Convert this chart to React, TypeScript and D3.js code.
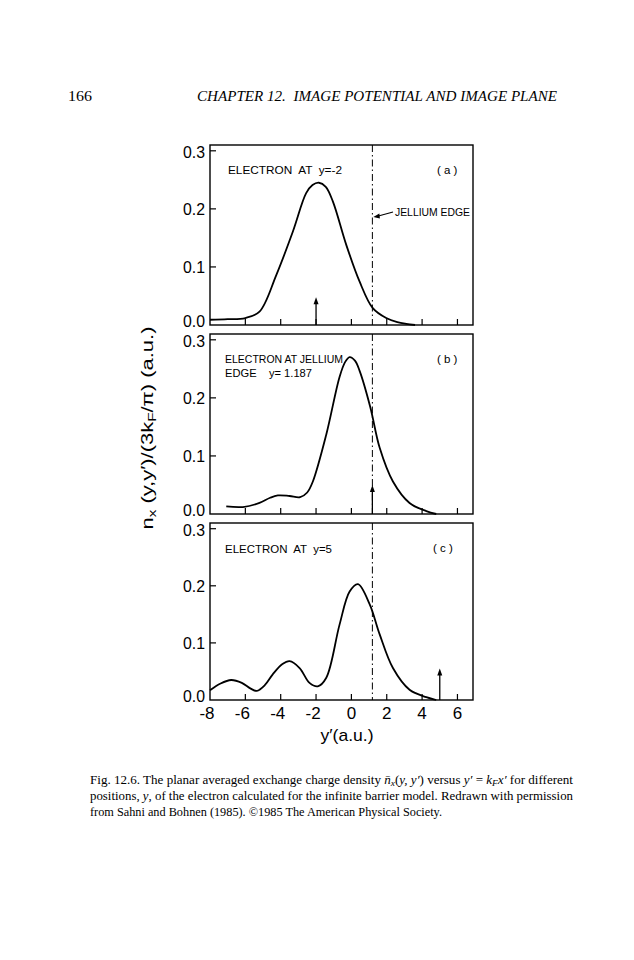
import React from "react";
import * as d3 from "d3";

// ---- data ----
const xDomain = [-8, 6.88];
const yDomain = [0, 0.31];
const xTicks = [-8, -6, -4, -2, 0, 2, 4, 6];
const yTicks = [0, 0.1, 0.2, 0.3];
const yTickLabels = ["0.0", "0.1", "0.2", "0.3"];
const jelliumEdge = 1.187;

const aX = [-8, -7, -6, -5.2, -4.25, -3.31, -2.56, -2.2, -1.84, -1.45, -1.05, -0.29, 0.46, 1.21, 1.97, 2.6, 3.1, 3.6];
const aY = [0.009, 0.010, 0.012, 0.023, 0.086, 0.161, 0.227, 0.241, 0.245, 0.238, 0.213, 0.138, 0.075, 0.029, 0.012, 0.005, 0.002, 0.0];

const bX = [-7.08, -6.14, -5.2, -4.6, -4.16, -3.5, -2.9, -2.5, -2.18, -1.42, -0.67, -0.35, -0.1, 0.2, 0.46, 1.07, 1.6, 2.35, 3.29, 4.24, 4.8];
const bY = [0.013, 0.012, 0.019, 0.028, 0.032, 0.031, 0.029, 0.037, 0.056, 0.137, 0.236, 0.262, 0.270, 0.264, 0.247, 0.184, 0.114, 0.056, 0.019, 0.005, 0.0];

const cX = [-8, -7.4, -6.8, -6.2, -5.7, -5.35, -4.9, -4.45, -3.9, -3.5, -2.93, -2.37, -1.9, -1.42, -0.67, -0.1, 0.37, 1.03, 1.6, 2.35, 3.29, 4.24, 4.8];
const cY = [0.017, 0.029, 0.035, 0.030, 0.020, 0.016, 0.026, 0.045, 0.063, 0.068, 0.056, 0.030, 0.024, 0.039, 0.132, 0.190, 0.203, 0.168, 0.115, 0.056, 0.018, 0.005, 0.0];

const electronPos = [-2, 1.187, 5];
const arrowHeights = [0.048, 0.05, 0.055];
const panelLabels = ["(a)", "(b)", "(c)"];

// ---- layout ----
const W = 634, H = 960;
const left = 210, right = 473;
const panels = [
  { top: 145, bottom: 325 },
  { top: 334, bottom: 514 },
  { top: 523, bottom: 700 },
];

const sans = "'Liberation Sans', Arial, sans-serif";
const serif = "'Liberation Serif', 'DejaVu Serif', serif";

export default function App() {
  const x = d3.scaleLinear().domain(xDomain).range([left, right]);
  const series = [
    { xs: aX, ys: aY },
    { xs: bX, ys: bY },
    { xs: cX, ys: cY },
  ];

  return (
    <svg width={W} height={H} style={{ position: "absolute", left: 0, top: 0, background: "#fff" }}>
      {/* header */}
      <text x={68} y={101} fontFamily={serif} fontSize={14} textLength={24} lengthAdjust="spacingAndGlyphs">166</text>
      <text x={197} y={101} fontFamily={serif} fontSize={14.5} fontStyle="italic" textLength={360} lengthAdjust="spacingAndGlyphs" xmlSpace="preserve">
        CHAPTER 12.  IMAGE POTENTIAL AND IMAGE PLANE
      </text>

      {panels.map((p, i) => {
        const y = d3.scaleLinear().domain(yDomain).range([p.bottom, p.top]);
        const line = d3
          .line<number>()
          .x((_, k) => x(series[i].xs[k]))
          .y((v) => y(v))
          .curve(d3.curveCatmullRom.alpha(0.5));
        const ex = x(electronPos[i]);
        const ay = y(arrowHeights[i]);
        return (
          <g key={i}>
            <rect x={left} y={p.top} width={right - left} height={p.bottom - p.top} fill="none" stroke="#000" strokeWidth={1.4} />
            {/* y ticks */}
            {yTicks.map((t, k) => (
              <g key={k}>
                {t > 0 && <line x1={left} x2={left + 6} y1={y(t)} y2={y(t)} stroke="#000" strokeWidth={1.2} />}
                <text
                  x={205}
                  y={y(t) + (t === 0 ? -4 : t >= 0.3 ? 1.5 : 0)}
                  dy="0.36em"
                  textAnchor="end"
                  fontFamily={sans}
                  fontSize={17}
                  textLength={22}
                  lengthAdjust="spacingAndGlyphs"
                >
                  {yTickLabels[k]}
                </text>
              </g>
            ))}
            {/* x ticks */}
            {xTicks.filter((t) => t > xDomain[0]).map((t) => (
              <line key={t} x1={x(t)} x2={x(t)} y1={p.bottom} y2={p.bottom - 6} stroke="#000" strokeWidth={1.2} />
            ))}
            {/* jellium edge */}
            <line x1={x(jelliumEdge)} x2={x(jelliumEdge)} y1={p.top} y2={p.bottom} stroke="#000" strokeWidth={1} strokeDasharray="7,3,1.5,3" />
            {/* curve */}
            <path d={line(series[i].ys) || ""} fill="none" stroke="#000" strokeWidth={1.8} />
            {/* electron arrow */}
            <line x1={ex} x2={ex} y1={p.bottom} y2={ay + 4} stroke="#000" strokeWidth={1.3} />
            <path d={`M${ex},${ay} L${ex - 2.5},${ay + 7} L${ex + 2.5},${ay + 7} Z`} fill="#000" />
            {/* panel label */}
            <text x={i === 2 ? 433 : 437} y={p.top + 29} fontFamily={sans} fontSize={11.5} xmlSpace="preserve">
              {panelLabels[i].split("").join(" ")}
            </text>
          </g>
        );
      })}

      {/* panel annotations */}
      <text x={228} y={174} fontFamily={sans} fontSize={11.5} textLength={114} lengthAdjust="spacingAndGlyphs" xmlSpace="preserve">
        ELECTRON  AT  y=-2
      </text>
      <text x={225} y={363} fontFamily={sans} fontSize={11.5} textLength={118} lengthAdjust="spacingAndGlyphs">
        ELECTRON AT JELLIUM
      </text>
      <text x={225} y={377} fontFamily={sans} fontSize={11.5} textLength={87} lengthAdjust="spacingAndGlyphs" xmlSpace="preserve">
        EDGE    y= 1.187
      </text>
      <text x={225} y={553} fontFamily={sans} fontSize={11.5} textLength={107} lengthAdjust="spacingAndGlyphs" xmlSpace="preserve">
        ELECTRON  AT  y=5
      </text>

      {/* jellium edge leader */}
      <line x1={x(jelliumEdge) + 6} y1={216} x2={393} y2={212} stroke="#000" strokeWidth={1.2} />
      <path d={`M${x(jelliumEdge) + 1},${217} L${x(jelliumEdge) + 7},${213.5} L${x(jelliumEdge) + 7.5},${218.5} Z`} fill="#000" />
      <text x={395} y={216} fontFamily={sans} fontSize={11.5} textLength={75} lengthAdjust="spacingAndGlyphs">
        JELLIUM EDGE
      </text>

      {/* x tick labels */}
      {xTicks.map((t) => (
        <text key={t} x={x(t) - (t < 0 ? 3 : 0)} y={713} dy="0.36em" textAnchor="middle" fontFamily={sans} fontSize={17}>
          {t < 0 ? "-" + Math.abs(t) : String(t)}
        </text>
      ))}
      <text x={347} y={741} textAnchor="middle" fontFamily={sans} fontSize={17} textLength={53} lengthAdjust="spacingAndGlyphs">
        y′(a.u.)
      </text>

      {/* y axis title */}
      <text transform="translate(153,428) rotate(-90)" textAnchor="middle" fontFamily={sans} fontSize={16} textLength={203} lengthAdjust="spacingAndGlyphs">
        <tspan>n</tspan>
        <tspan fontSize={11} dy={3}>x</tspan>
        <tspan dy={-3}> (y,y′)/(3k</tspan>
        <tspan fontSize={11} dy={3}>F</tspan>
        <tspan dy={-3}>/π) (a.u.)</tspan>
      </text>

      {/* caption */}
      <text x={90} y={784} fontFamily={serif} fontSize={12.5} textLength={483} lengthAdjust="spacingAndGlyphs">
        Fig. 12.6. The planar averaged exchange charge density <tspan fontStyle="italic">n̄</tspan>
        <tspan fontStyle="italic" fontSize={9} dy={2}>x</tspan>
        <tspan dy={-2}>(</tspan><tspan fontStyle="italic">y, y′</tspan>) versus <tspan fontStyle="italic">y′</tspan> = <tspan fontStyle="italic">k</tspan>
        <tspan fontStyle="italic" fontSize={9} dy={2}>F</tspan>
        <tspan dy={-2} fontStyle="italic">x′</tspan> for different
      </text>
      <text x={90} y={800} fontFamily={serif} fontSize={12.5} textLength={483} lengthAdjust="spacingAndGlyphs">
        positions, <tspan fontStyle="italic">y</tspan>, of the electron calculated for the infinite barrier model. Redrawn with permission
      </text>
      <text x={90} y={816} fontFamily={serif} fontSize={12.5} textLength={352} lengthAdjust="spacingAndGlyphs">
        from Sahni and Bohnen (1985). ©1985 The American Physical Society.
      </text>
    </svg>
  );
}
